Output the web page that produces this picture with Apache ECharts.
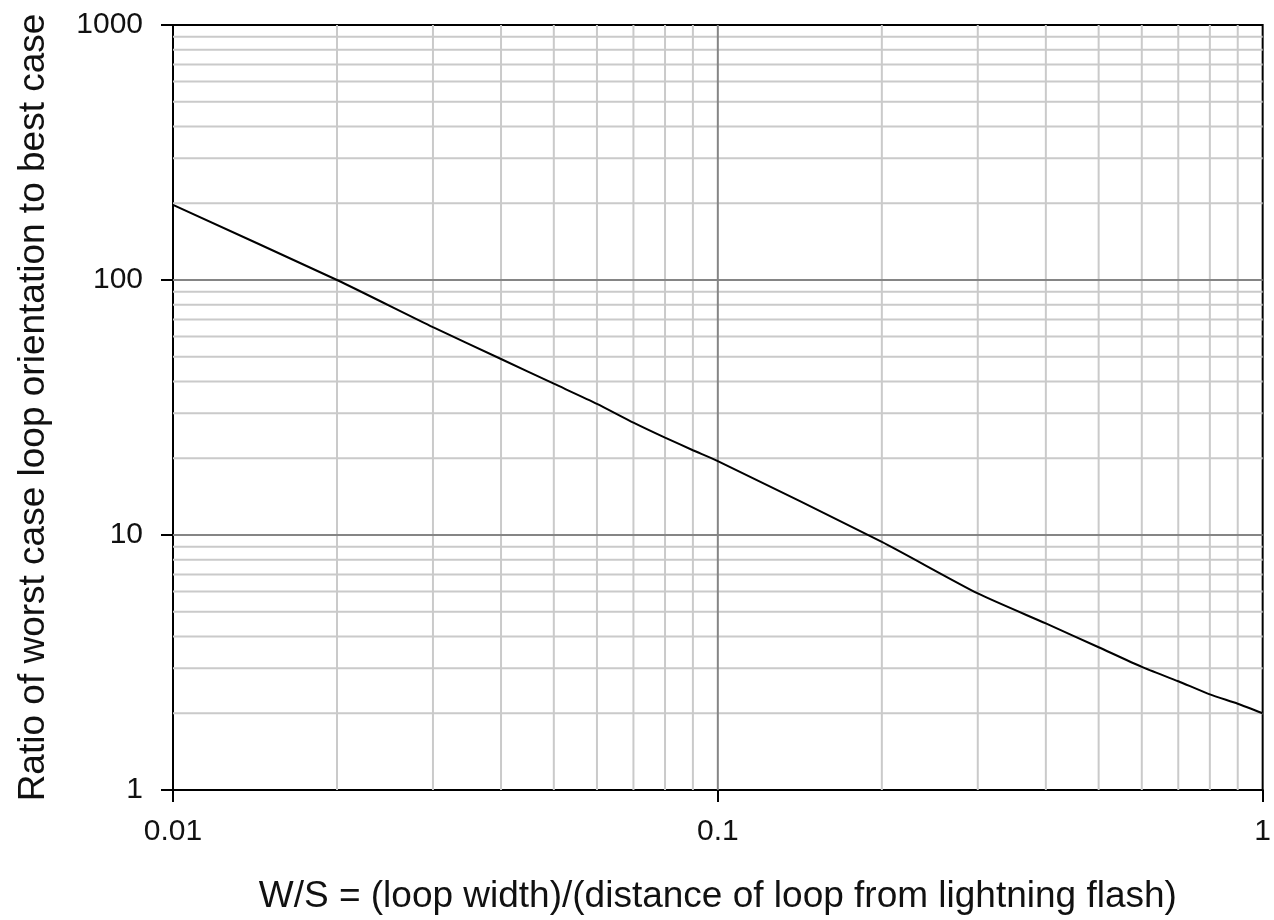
<!DOCTYPE html>
<html>
<head>
<meta charset="utf-8">
<script src="https://cdn.jsdelivr.net/npm/echarts@6/dist/echarts.min.js"></script>
<style>
html,body{margin:0;padding:0;background:#fff;}
#chart{width:1274px;height:920px;}
</style>
</head>
<body>
<div id="chart"></div>
<script>
// Curve readings (W/S vs ratio)
var xValues = [0.01, 0.02, 0.03, 0.04, 0.05, 0.06, 0.07, 0.08, 0.09, 0.1, 0.2, 0.3, 0.4, 0.5, 0.6, 0.7, 0.8, 0.9, 1];
var yValues = [197, 100, 65.3, 49, 39.2, 32.7, 27.6, 24.1, 21.5, 19.5, 9.4, 5.9, 4.5, 3.63, 3.04, 2.67, 2.37, 2.18, 2.0];

// Gridline positions
var xMinorGrid = [0.02, 0.03, 0.04, 0.05, 0.06, 0.07, 0.08, 0.09, 0.2, 0.3, 0.4, 0.5, 0.6, 0.7, 0.8, 0.9];
var xMajorGrid = [0.1];
var yMinorGrid = [2, 3, 4, 5, 6, 7, 8, 9, 20, 30, 40, 50, 60, 70, 80, 90, 200, 300, 400, 500, 600, 700, 800, 900];
var yMajorGrid = [10, 100];

var xMin = 0.01, xMax = 1, yMin = 1, yMax = 1000;

var xTitle = 'W/S = (loop width)/(distance of loop from lightning flash)';
var yTitle = 'Ratio of worst case loop orientation to best case';

var chart = echarts.init(document.getElementById('chart'));

function gridSeries(vals, dir, color, z) {
  return {
    type: 'custom',
    silent: true,
    z: z,
    clip: true,
    data: vals,
    renderItem: function (params, api) {
      var v = api.value(0);
      var p1, p2;
      if (dir === 'x') {
        p1 = api.coord([v, yMin]);
        p2 = api.coord([v, yMax]);
      } else {
        p1 = api.coord([xMin, v]);
        p2 = api.coord([xMax, v]);
      }
      return {
        type: 'line',
        shape: {x1: p1[0], y1: p1[1], x2: p2[0], y2: p2[1]},
        style: {stroke: color, lineWidth: 2}
      };
    },
    encode: dir === 'x' ? {x: 0} : {y: 0}
  };
}

var font = 'Liberation Sans, Arial, sans-serif';

var option = {
  animation: false,
  backgroundColor: '#fff',
  grid: {left: 173, right: 6, top: 25, bottom: 128, show: true, borderColor: '#000', borderWidth: 2, containLabel: false},
  xAxis: {
    type: 'log', logBase: 10, min: xMin, max: xMax,
    name: xTitle, nameLocation: 'middle', nameGap: 88,
    nameTextStyle: {fontFamily: font, fontSize: 37, color: '#111'},
    axisLine: {show: true, lineStyle: {color: '#000', width: 2}},
    axisTick: {show: true, length: 12, lineStyle: {color: '#000', width: 2}},
    axisLabel: {margin: 27, fontFamily: font, fontSize: 30, color: '#111',
      formatter: function (v) { return String(v); }},
    splitLine: {show: false},
    minorTick: {show: false},
    minorSplitLine: {show: false}
  },
  yAxis: {
    type: 'log', logBase: 10, min: yMin, max: yMax,
    name: yTitle, nameLocation: 'middle', nameGap: 121, nameRotate: 90,
    nameTextStyle: {fontFamily: font, fontSize: 37, color: '#111'},
    axisLine: {show: true, lineStyle: {color: '#000', width: 2}},
    axisTick: {show: true, length: 12, lineStyle: {color: '#000', width: 2}},
    axisLabel: {margin: 30, fontFamily: font, fontSize: 30, color: '#111',
      formatter: function (v) { return String(v); }},
    splitLine: {show: false},
    minorTick: {show: false},
    minorSplitLine: {show: false}
  },
  series: [
    gridSeries(xMinorGrid, 'x', '#cacaca', 1),
    gridSeries(yMinorGrid, 'y', '#cacaca', 1),
    gridSeries(xMajorGrid, 'x', '#858585', 2),
    gridSeries(yMajorGrid, 'y', '#858585', 2),
    {
      type: 'line',
      z: 5,
      data: xValues.map(function (x, i) { return [x, yValues[i]]; }),
      showSymbol: false,
      smooth: 0.2,
      lineStyle: {color: '#000', width: 2},
      silent: true
    }
  ]
};
chart.setOption(option);
</script>
</body>
</html>
